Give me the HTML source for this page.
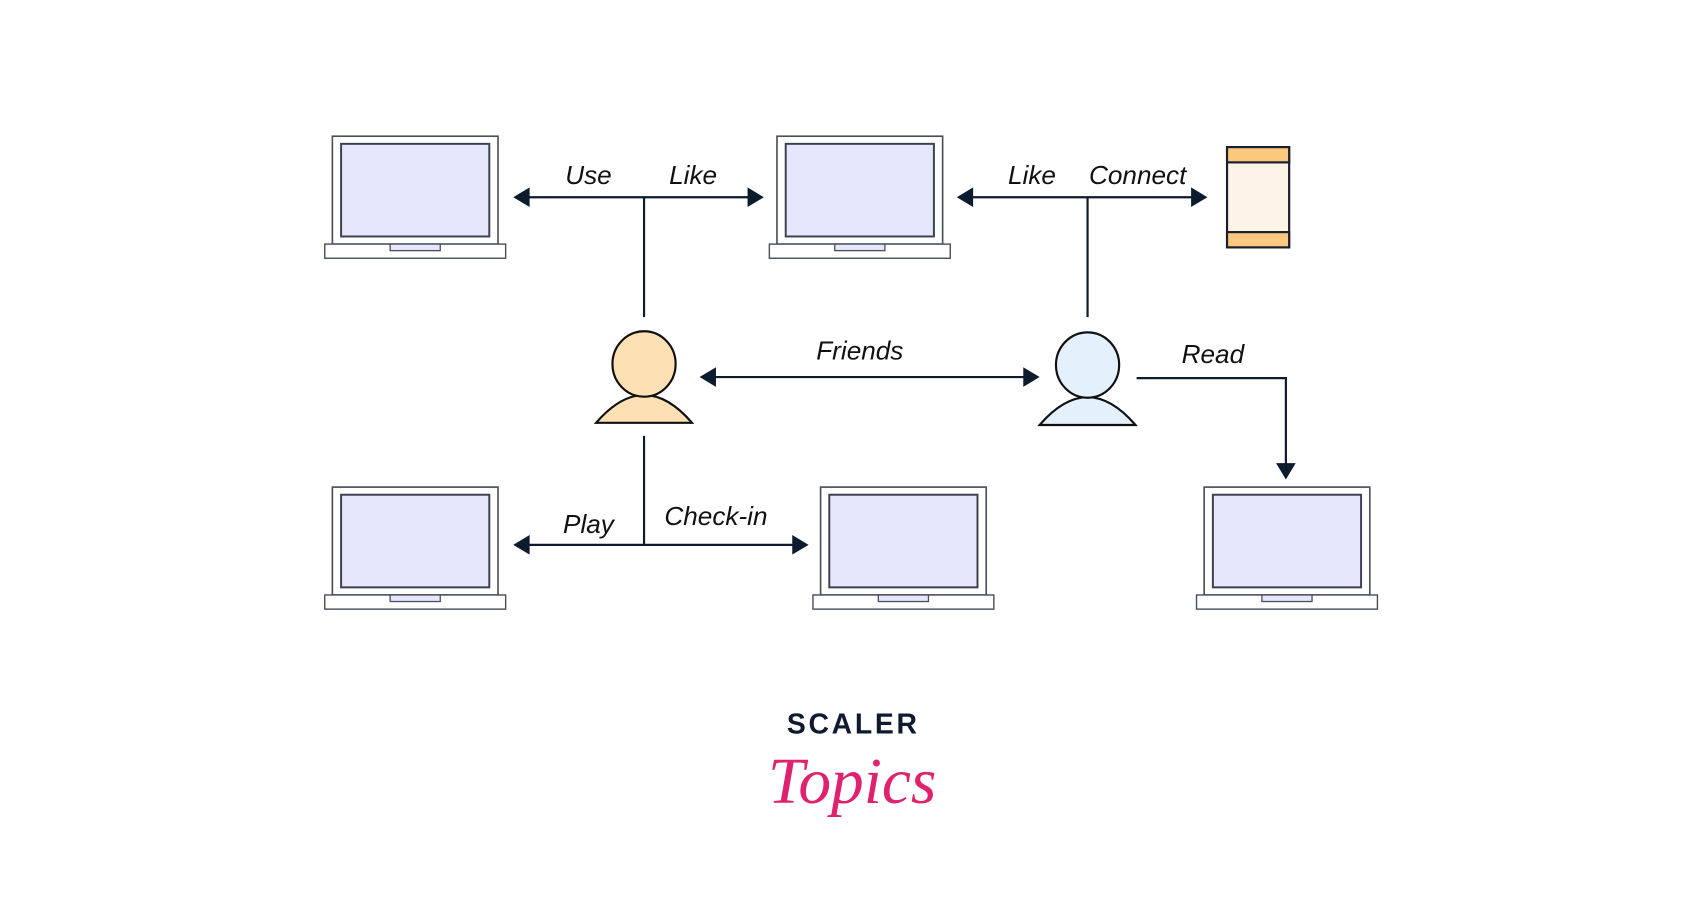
<!DOCTYPE html>
<html><head><meta charset="utf-8"><style>html,body{margin:0;padding:0;background:#fff;}svg{display:block}</style></head>
<body>
<svg width="1700" height="917" viewBox="0 0 1560 841.5" xmlns="http://www.w3.org/2000/svg">
<defs>
<g id="lap">
<rect x="0" y="0" width="152" height="99" fill="#fff" stroke="#4a4f5c" stroke-width="1.5"/>
<rect x="8" y="7" width="136" height="85" fill="#e6e6fc" stroke="#3a4050" stroke-width="1.8"/>
<rect x="-7" y="99" width="166" height="13" fill="#fff" stroke="#4a4f5c" stroke-width="1.3"/>
<rect x="53" y="99" width="46" height="6" fill="#e6e6fc" stroke="#4a4f5c" stroke-width="1.2"/>
</g>
</defs>
<g transform="translate(-3,-1)">
<use href="#lap" x="308" y="126"/>
<use href="#lap" x="716" y="126"/>
<use href="#lap" x="308" y="448"/>
<use href="#lap" x="756" y="448"/>
<use href="#lap" x="1108" y="448"/>
<rect x="1129" y="136" width="57" height="92" fill="#fdf3e6" stroke="#1a1f2e" stroke-width="2"/>
<rect x="1129" y="136" width="57" height="14" fill="#fbc97e" stroke="#1a1f2e" stroke-width="2"/>
<rect x="1129" y="214" width="57" height="14" fill="#fbc97e" stroke="#1a1f2e" stroke-width="2"/>
<g stroke="#0d1b2e" stroke-width="2" fill="none">
<line x1="488" y1="182" x2="690" y2="182"/>
<line x1="594" y1="182" x2="594" y2="292"/>
<line x1="895" y1="182" x2="1097" y2="182"/>
<line x1="1001" y1="182" x2="1001" y2="292"/>
<line x1="659" y1="347" x2="943" y2="347"/>
<line x1="594" y1="401" x2="594" y2="501"/>
<line x1="488" y1="501" x2="731" y2="501"/>
<polyline points="1046,348 1183,348 1183,427"/>
</g>
<g fill="#0d1b2e">
<polygon points="474,182 489,173 489,191"/>
<polygon points="704,182 689,173 689,191"/>
<polygon points="881,182 896,173 896,191"/>
<polygon points="1111,182 1096,173 1096,191"/>
<polygon points="645,347 660,338 660,356"/>
<polygon points="957,347 942,338 942,356"/>
<polygon points="474,501 489,492 489,510"/>
<polygon points="745,501 730,492 730,510"/>
<polygon points="1183,441 1174,426 1192,426"/>
</g>
<g stroke="#111" stroke-width="2">
<path d="M550,389 Q594,338 638,389 Z" fill="#fde0b3"/>
<ellipse cx="594" cy="335" rx="29" ry="30" fill="#fde0b3"/>
<path d="M957,391 Q1001,340 1045,391 Z" fill="#e4f1fd"/>
<ellipse cx="1001" cy="336" rx="29" ry="30" fill="#e4f1fd"/>
</g>
<g font-family="Liberation Sans, sans-serif" font-style="italic" font-size="24" fill="#111" text-anchor="middle">
<text x="543" y="170">Use</text>
<text x="639" y="170">Like</text>
<text x="950" y="170">Like</text>
<text x="1047" y="170">Connect</text>
<text x="792" y="331">Friends</text>
<text x="1116" y="334">Read</text>
<text x="543" y="490">Play</text>
<text x="660" y="483">Check-in</text>
</g>
<text x="786" y="674" font-family="Liberation Sans, sans-serif" font-weight="bold" font-size="26" letter-spacing="2.5" fill="#0f1a2e" text-anchor="middle">SCALER</text>
<text x="785" y="738" font-family="Liberation Serif, serif" font-style="italic" font-size="60" fill="#e0226e" text-anchor="middle">Topics</text>
</g>
</svg>
</body></html>
